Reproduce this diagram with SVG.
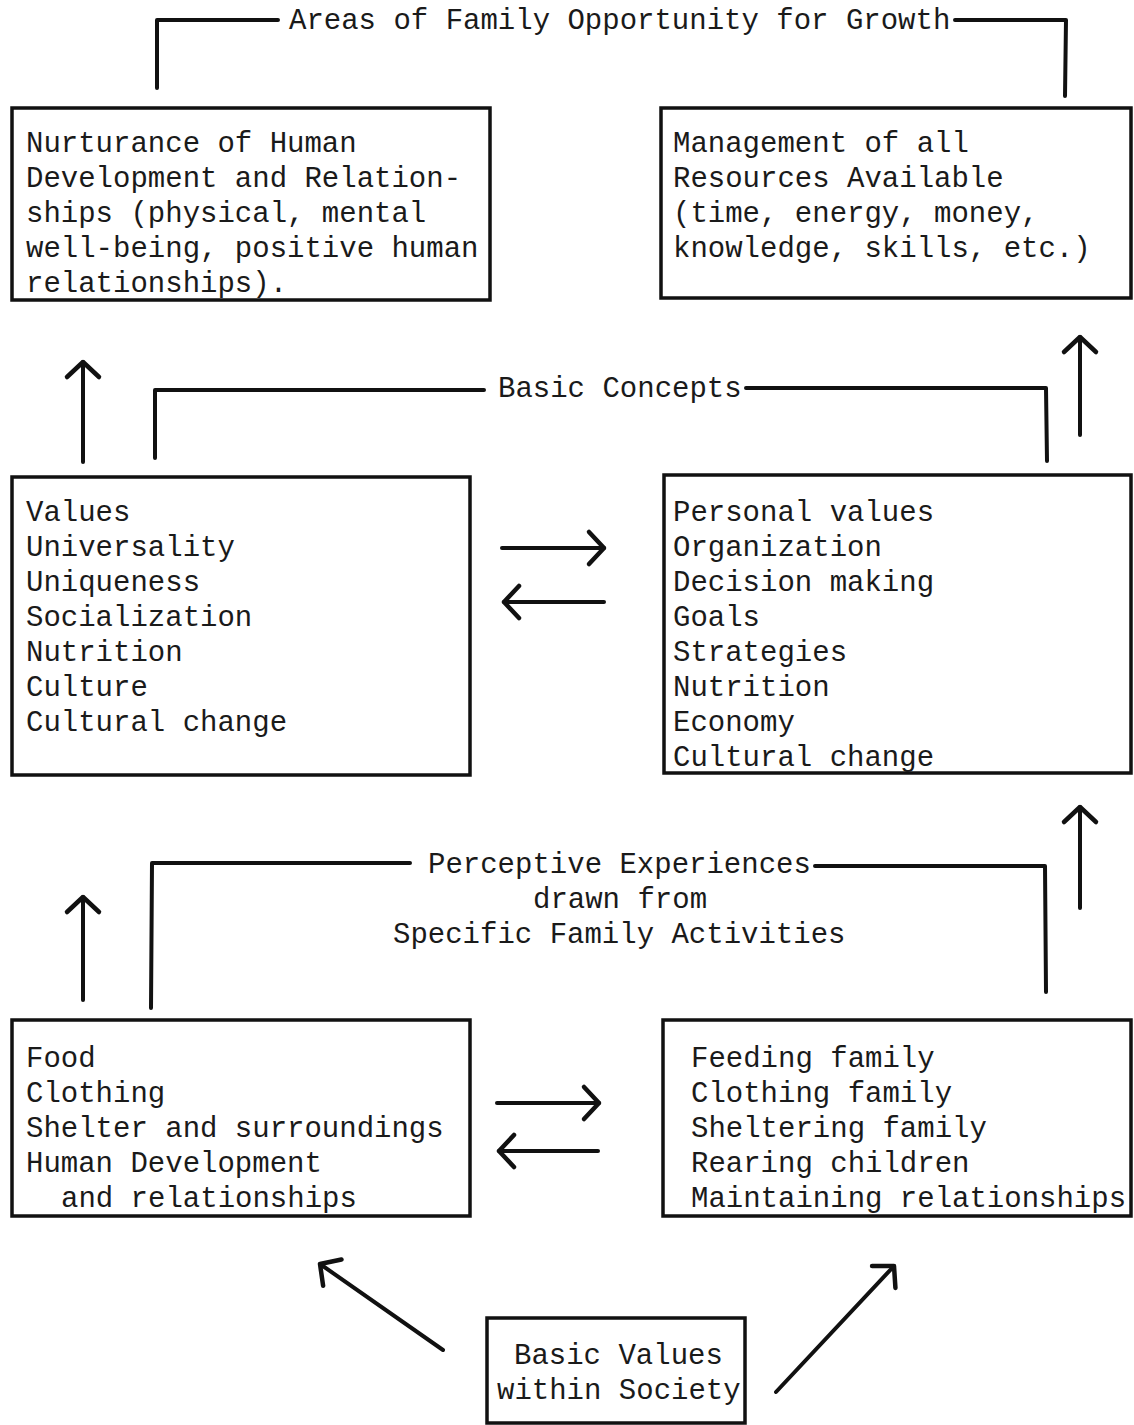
<svg xmlns="http://www.w3.org/2000/svg" width="1134" height="1425" viewBox="0 0 1134 1425">
<style>
  .bg{fill:#ffffff}
  .box{fill:none;stroke:#111;stroke-width:3.5}
  .t{font-family:"Liberation Mono","DejaVu Sans Mono",monospace;font-size:29px;fill:#1a1a1a}
  .ln{fill:none;stroke:#111;stroke-width:4;stroke-linecap:round;stroke-linejoin:round}
  .ar{fill:none;stroke:#111;stroke-width:4;stroke-linecap:round;marker-end:url(#head)}
</style>
<defs>
  <marker id="head" viewBox="-20 -20 25 40" markerWidth="25" markerHeight="40" refX="0" refY="0" orient="auto" markerUnits="userSpaceOnUse">
    <path d="M -15 -16 L 0 0 L -15 16" fill="none" stroke="#111" stroke-width="4.5" stroke-linecap="round" stroke-linejoin="round"/>
  </marker>
</defs>
<rect class="bg" x="0" y="0" width="1134" height="1425"/>

<g id="connectors">
  <!-- Areas of Family Opportunity bracket -->
  <path class="ln" d="M 157 88 L 157 20 L 278 20"/>
  <path class="ln" d="M 955 20 L 1066 20 L 1065 96"/>
  <!-- Basic Concepts bracket -->
  <path class="ln" d="M 155 458 L 155 390 L 484 390"/>
  <path class="ln" d="M 746 388 L 1046 388 L 1047 461"/>
  <!-- Perceptive Experiences bracket -->
  <path class="ln" d="M 151 1008 L 152 863 L 410 863"/>
  <path class="ln" d="M 815 866 L 1045 866 L 1046 992"/>
  <!-- Up arrows -->
  <line class="ar" x1="83" y1="462" x2="83" y2="362"/>
  <line class="ar" x1="1080" y1="435" x2="1080" y2="337"/>
  <line class="ar" x1="83" y1="1000" x2="83" y2="897"/>
  <line class="ar" x1="1080" y1="908" x2="1080" y2="807"/>
  <!-- Middle double arrows -->
  <line class="ar" x1="502" y1="548" x2="604" y2="548"/>
  <line class="ar" x1="604" y1="602" x2="504" y2="602"/>
  <!-- Lower double arrows -->
  <line class="ar" x1="497" y1="1103" x2="599" y2="1103"/>
  <line class="ar" x1="598" y1="1151" x2="499" y2="1151"/>
  <!-- Diagonal arrows -->
  <line class="ar" x1="443" y1="1350" x2="320" y2="1264"/>
  <line class="ar" x1="776" y1="1392" x2="894" y2="1266"/>
</g>

<g id="title-top">
  <text class="t" x="289" y="29">Areas of Family Opportunity for Growth</text>
</g>
<g id="title-concepts">
  <text class="t" x="498" y="397">Basic Concepts</text>
</g>
<g id="title-perceptive">
  <text class="t" x="428" y="873">Perceptive Experiences</text>
  <text class="t" x="533" y="908">drawn from</text>
  <text class="t" x="393" y="943">Specific Family Activities</text>
</g>

<g id="node-nurturance">
  <rect class="box" x="12" y="108" width="478" height="192"/>
  <text class="t" x="26" y="152">Nurturance of Human</text>
  <text class="t" x="26" y="187">Development and Relation-</text>
  <text class="t" x="26" y="222">ships (physical, mental</text>
  <text class="t" x="26" y="257">well-being, positive human</text>
  <text class="t" x="26" y="292">relationships).</text>
</g>

<g id="node-management">
  <rect class="box" x="661" y="108" width="470" height="190"/>
  <text class="t" x="673" y="152">Management of all</text>
  <text class="t" x="673" y="187">Resources Available</text>
  <text class="t" x="673" y="222">(time, energy, money,</text>
  <text class="t" x="673" y="257">knowledge, skills, etc.)</text>
</g>

<g id="node-values">
  <rect class="box" x="12" y="477" width="458" height="298"/>
  <text class="t" x="26" y="521">Values</text>
  <text class="t" x="26" y="556">Universality</text>
  <text class="t" x="26" y="591">Uniqueness</text>
  <text class="t" x="26" y="626">Socialization</text>
  <text class="t" x="26" y="661">Nutrition</text>
  <text class="t" x="26" y="696">Culture</text>
  <text class="t" x="26" y="731">Cultural change</text>
</g>

<g id="node-personal">
  <rect class="box" x="664" y="475" width="467" height="298"/>
  <text class="t" x="673" y="521">Personal values</text>
  <text class="t" x="673" y="556">Organization</text>
  <text class="t" x="673" y="591">Decision making</text>
  <text class="t" x="673" y="626">Goals</text>
  <text class="t" x="673" y="661">Strategies</text>
  <text class="t" x="673" y="696">Nutrition</text>
  <text class="t" x="673" y="731">Economy</text>
  <text class="t" x="673" y="766">Cultural change</text>
</g>

<g id="node-food">
  <rect class="box" x="12" y="1020" width="458" height="196"/>
  <text class="t" x="26" y="1067">Food</text>
  <text class="t" x="26" y="1102">Clothing</text>
  <text class="t" x="26" y="1137">Shelter and surroundings</text>
  <text class="t" x="26" y="1172">Human Development</text>
  <text class="t" x="61" y="1207">and relationships</text>
</g>

<g id="node-feeding">
  <rect class="box" x="663" y="1020" width="468" height="196"/>
  <text class="t" x="691" y="1067">Feeding family</text>
  <text class="t" x="691" y="1102">Clothing family</text>
  <text class="t" x="691" y="1137">Sheltering family</text>
  <text class="t" x="691" y="1172">Rearing children</text>
  <text class="t" x="691" y="1207">Maintaining relationships</text>
</g>

<g id="node-basic-values">
  <rect class="box" x="487" y="1318" width="258" height="105"/>
  <text class="t" x="514" y="1364">Basic Values</text>
  <text class="t" x="497" y="1399">within Society</text>
</g>
</svg>
